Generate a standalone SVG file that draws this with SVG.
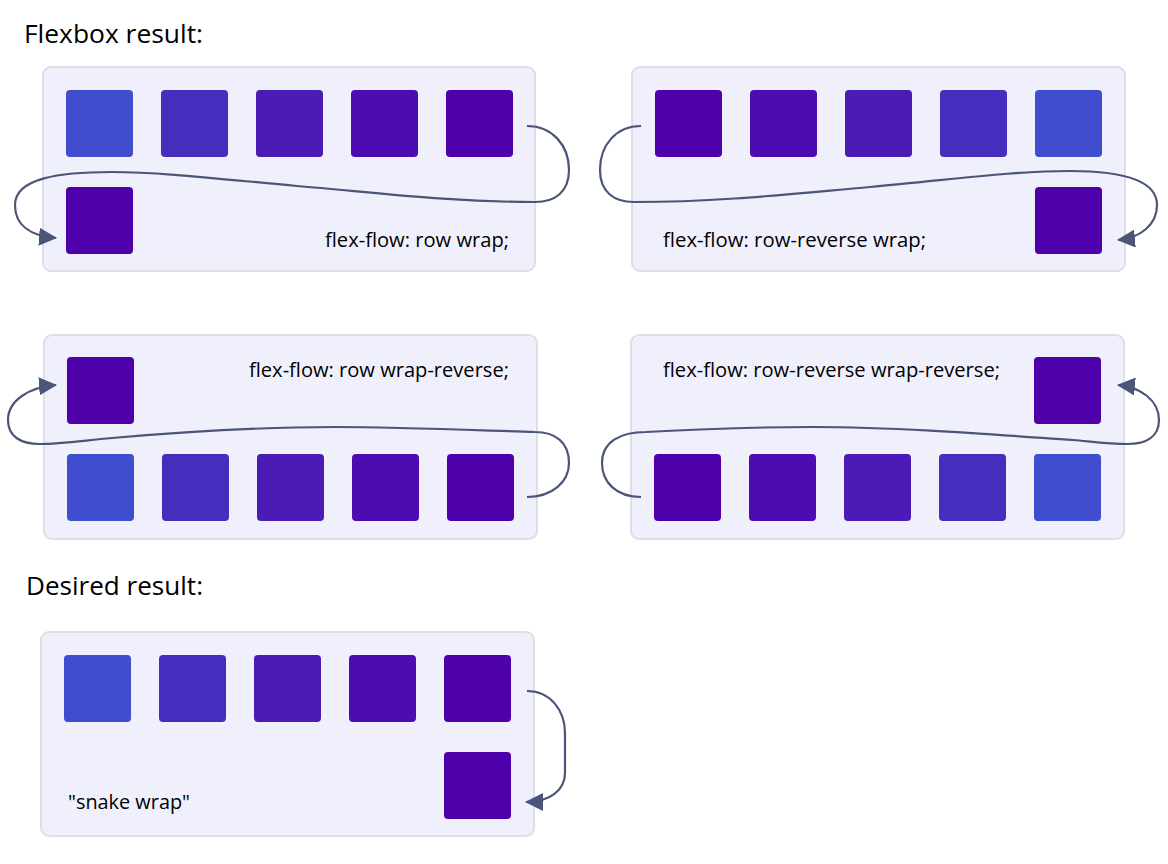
<svg xmlns="http://www.w3.org/2000/svg" width="1168" height="864" viewBox="0 0 1168 864">
<style>
.panel{fill:#F0F0FC;stroke:#DEDDE8;stroke-width:2}
.c1{fill:#404DCF}.c2{fill:#452EBE}.c3{fill:#4A1BB5}.c4{fill:#4D0CB1}.c5{fill:#4E00AA}
.lbl{font-family:"Open Sans","Noto Sans",sans-serif;font-size:20px;fill:#000}
.hd{font-family:"Open Sans","Noto Sans",sans-serif;font-size:26px;fill:#000}
.conn{fill:none;stroke:#4A5577;stroke-width:2.2}
</style>
<defs>
<marker id="ah" viewBox="0 0 18 18" refX="17" refY="9" markerWidth="18" markerHeight="18" markerUnits="userSpaceOnUse" orient="auto">
<path d="M0,0 L18,9 L0,18 z" fill="#4A5577"/>
</marker>
<rect id="sq" width="67" height="67" rx="4"/>
</defs>
<rect width="1168" height="864" fill="#FFFFFF"/>
<text class="hd" x="24" y="43" textLength="179" lengthAdjust="spacingAndGlyphs">Flexbox result:</text>
<text class="hd" x="26" y="595" textLength="177" lengthAdjust="spacingAndGlyphs">Desired result:</text>

<g id="panel1">
<rect class="panel" x="43" y="67" width="492" height="204" rx="8"/>
<use href="#sq" class="c1" x="66" y="90"/>
<use href="#sq" class="c2" x="161" y="90"/>
<use href="#sq" class="c3" x="256" y="90"/>
<use href="#sq" class="c4" x="351" y="90"/>
<use href="#sq" class="c5" x="446" y="90"/>
<use href="#sq" class="c5" x="66" y="187"/>
<text class="lbl" x="509" y="247" text-anchor="end" textLength="184" lengthAdjust="spacingAndGlyphs">flex-flow: row wrap;</text>
</g>

<g id="panel2">
<rect class="panel" x="632" y="67" width="493" height="204" rx="8"/>
<use href="#sq" class="c5" x="655" y="90"/>
<use href="#sq" class="c4" x="750" y="90"/>
<use href="#sq" class="c3" x="845" y="90"/>
<use href="#sq" class="c2" x="940" y="90"/>
<use href="#sq" class="c1" x="1035" y="90"/>
<use href="#sq" class="c5" x="1035" y="187"/>
<text class="lbl" x="663" y="247" textLength="263" lengthAdjust="spacingAndGlyphs">flex-flow: row-reverse wrap;</text>
</g>

<g id="panel3">
<rect class="panel" x="44" y="335" width="493" height="204" rx="8"/>
<use href="#sq" class="c5" x="67" y="357"/>
<use href="#sq" class="c1" x="67" y="454"/>
<use href="#sq" class="c2" x="162" y="454"/>
<use href="#sq" class="c3" x="257" y="454"/>
<use href="#sq" class="c4" x="352" y="454"/>
<use href="#sq" class="c5" x="447" y="454"/>
<text class="lbl" x="509" y="377" text-anchor="end" textLength="260" lengthAdjust="spacingAndGlyphs">flex-flow: row wrap-reverse;</text>
</g>

<g id="panel4">
<rect class="panel" x="631" y="335" width="493" height="204" rx="8"/>
<use href="#sq" class="c5" x="1034" y="357"/>
<use href="#sq" class="c5" x="654" y="454"/>
<use href="#sq" class="c4" x="749" y="454"/>
<use href="#sq" class="c3" x="844" y="454"/>
<use href="#sq" class="c2" x="939" y="454"/>
<use href="#sq" class="c1" x="1034" y="454"/>
<text class="lbl" x="663" y="377" textLength="337" lengthAdjust="spacingAndGlyphs">flex-flow: row-reverse wrap-reverse;</text>
</g>

<g id="panel5">
<rect class="panel" x="41" y="632" width="493" height="204" rx="8"/>
<use href="#sq" class="c1" x="64" y="655"/>
<use href="#sq" class="c2" x="159" y="655"/>
<use href="#sq" class="c3" x="254" y="655"/>
<use href="#sq" class="c4" x="349" y="655"/>
<use href="#sq" class="c5" x="444" y="655"/>
<use href="#sq" class="c5" x="444" y="752"/>
<text class="lbl" x="68" y="809" textLength="122" lengthAdjust="spacingAndGlyphs">"snake wrap"</text>
</g>

<g id="connectors">
<path class="conn" marker-end="url(#ah)" d="M 527 126 C 552 126, 569 145, 569 170 C 569 192, 555 202, 535 202 C 450 202, 380 193, 297 186 C 220 179, 160 172, 112 172 C 60 172, 15 178, 15 205 C 15 225, 30 236, 56 238"/>
<path class="conn" marker-end="url(#ah)" d="M 641 126 C 616 126, 600 145, 600 170 C 600 192, 614 202, 634 202 C 720 202, 790 194, 870 187 C 950 180, 1010 171, 1070 171 C 1115 171, 1157 178, 1157 205 C 1157 225, 1140 238, 1118 240"/>
<path class="conn" marker-end="url(#ah)" d="M 527 497 C 552 497, 569 482, 569 463 C 569 442, 555 432, 535 432 C 470 430, 400 427, 335 427 C 250 427, 170 433, 112 438 C 80 441, 60 444, 40 444 C 20 444, 8 436, 8 420 C 8 400, 30 387, 56 385"/>
<path class="conn" marker-end="url(#ah)" d="M 641 497 C 616 497, 602 482, 602 463 C 602 442, 620 432, 646 432 C 700 429, 760 427, 813 427 C 900 427, 1000 435, 1073 440 C 1095 442, 1110 444, 1127 444 C 1147 444, 1159 436, 1159 420 C 1159 400, 1140 387, 1118 385"/>
<path class="conn" marker-end="url(#ah)" d="M 527 691 C 550 691, 565 710, 565 733 L 565 773 C 565 790, 550 802, 526 802"/>
</g>
</svg>
